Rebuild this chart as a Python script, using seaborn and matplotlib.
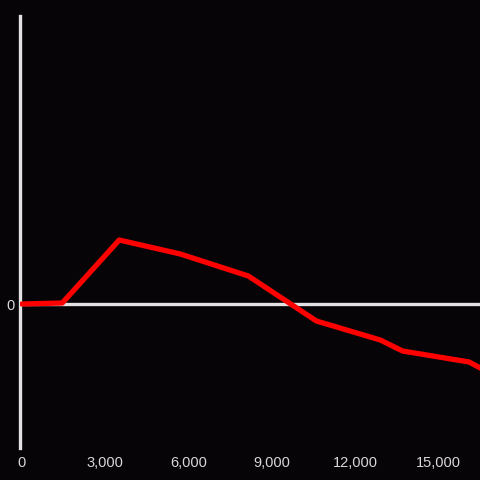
import matplotlib
matplotlib.use("Agg")
import matplotlib.pyplot as plt
import matplotlib.ticker as mticker
import pandas as pd
import seaborn as sns

# Values
x_values = [0, 1450, 3500, 5700, 8150, 10600, 12900, 13700, 16100, 16500]
y_values = [0, 1, 64, 50, 28, -17, -36, -47, -58, -64]
x_ticks = [0, 3000, 6000, 9000, 12000, 15000]

df = pd.DataFrame({"x": x_values, "y": y_values})

sns.set_theme(style="dark")
plt.rcParams["font.family"] = ["Liberation Sans", "DejaVu Sans"]
bg = "#060407"

fig = plt.figure(figsize=(4.8, 4.8), dpi=100, facecolor=bg)
ax = fig.add_axes([20 / 480, 32 / 480, 460 / 480, 432 / 480])
ax.set_facecolor(bg)

ax.axhline(0, color="#e2e2e2", lw=2.4, zorder=1)
sns.lineplot(data=df, x="x", y="y", color="#ff0000", lw=3.8, ax=ax, zorder=3)

ax.set_xlim(-72, 16490)
ax.set_ylim(-144, 288)
ax.set_xticks(x_ticks)
ax.xaxis.set_major_formatter(mticker.FuncFormatter(lambda v, p: f"{int(v):,}"))
ax.set_yticks([0])
ax.tick_params(axis="both", length=0, colors="#d8d8d8", labelsize=10.5)
ax.tick_params(axis="x", pad=6)
ax.tick_params(axis="y", pad=4)
ax.set_xlabel("")
ax.set_ylabel("")
ax.grid(False)

for side in ["top", "right", "bottom"]:
    ax.spines[side].set_visible(False)
ax.spines["left"].set_color("#e2e2e2")
ax.spines["left"].set_linewidth(2.4)

fig.savefig("out.png", dpi=100, facecolor=bg)
